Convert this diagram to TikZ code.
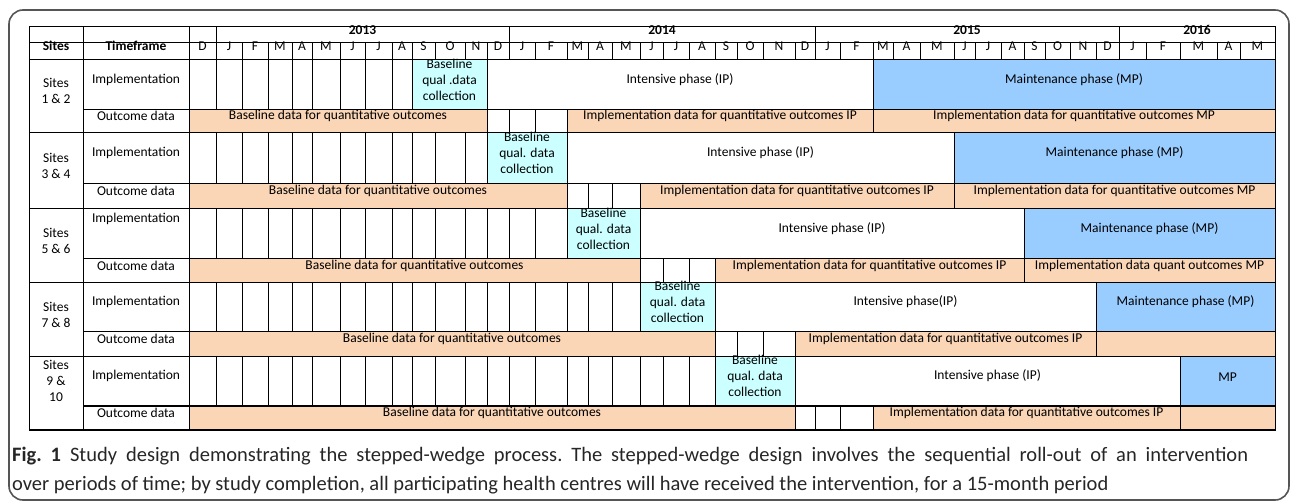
\documentclass[tikz,border=0pt]{standalone}
\usepackage{fontspec}
\setmainfont{Carlito}
\usetikzlibrary{positioning, fit}

\definecolor{qualcol}{RGB}{204,255,255}
\definecolor{mpcol}{RGB}{153,204,255}
\definecolor{datacol}{RGB}{250,213,182}
\definecolor{framecol}{RGB}{85,85,85}

\tikzstyle{cell} = [rectangle, draw = black, line width = 0.8pt, inner sep = 0pt,
text height = 0.8em, text depth = 0.2em, font = \fontsize{13.5}{16}\selectfont]
\tikzstyle{multi} = [align = center, text height = {}, text depth = {}]
\tikzstyle{headbox} = [cell, font = \fontsize{13.5}{16}\selectfont\bfseries]
\tikzstyle{qualbox} = [cell, multi, fill = qualcol]
\tikzstyle{ipbox} = [cell, fill = white]
\tikzstyle{mpbox} = [cell, fill = mpcol]
\tikzstyle{outbox} = [cell, fill = datacol]
\tikzstyle{gridline} = [draw = black, line width = 0.8pt]
\tikzstyle{boldline} = [draw = black, line width = 1.8pt]

\begin{document}
\begin{tikzpicture}[x = 1pt, y = -1pt]

    \useasboundingbox (0,0) rectangle (1292,502);
    \draw[framecol, line width = 1.6pt, rounded corners = 14pt] (9,10) rectangle (1289,500);

    % column and row boundaries
    \coordinate (c0) at (29,0);
    \coordinate (c1) at (83,0);
    \coordinate (c2) at (189,0);
    \foreach \i/\x in {0/189, 1/216, 2/242, 3/268, 4/292, 5/312, 6/340, 7/365, 8/392, 9/412,
        10/435, 11/465, 12/487, 13/509, 14/535, 15/567, 16/588, 17/612, 18/640, 19/663,
        20/689, 21/715, 22/737, 23/763, 24/795, 25/815, 26/840, 27/873, 28/893, 29/920,
        30/954, 31/975, 32/1001, 33/1024, 34/1045, 35/1070, 36/1096, 37/1119, 38/1146,
        39/1180, 40/1217, 41/1240, 42/1275}
        \coordinate (m\i) at (\x,0);
    \foreach \j/\y in {0/26, 1/42.5, 2/59.5, 3/109.5, 4/132.5, 5/183.5, 6/208.5, 7/258.5,
        8/282.5, 9/331.5, 10/356, 11/406, 12/430}
        \coordinate (r\j) at (0,\y);

    % header
    \node (blank1) [cell, fit = {(c0|-r0) (c1|-r1)}] {};
    \node (blank2) [cell, fit = {(c1|-r0) (c2|-r1)}] {};
    \node (blank3) [cell, fit = {(m0|-r0) (m1|-r1)}] {};
    \node (y2013) [headbox, fit = {(m1|-r0) (m13|-r1)}] {2013};
    \node (y2014) [headbox, fit = {(m13|-r0) (m25|-r1)}] {2014};
    \node (y2015) [headbox, fit = {(m25|-r0) (m37|-r1)}] {2015};
    \node (y2016) [headbox, fit = {(m37|-r0) (m42|-r1)}] {2016};
    \node (sites) [headbox, fit = {(c0|-r1) (c1|-r2)}] {Sites};
    \node (timeframe) [headbox, fit = {(c1|-r1) (c2|-r2)}] {Timeframe};
    \foreach \k/\mon [evaluate = \k as \kk using int(\k+1)] in {0/D, 1/J, 2/F, 3/M, 4/A, 5/M,
        6/J, 7/J, 8/A, 9/S, 10/O, 11/N, 12/D, 13/J, 14/F, 15/M, 16/A, 17/M, 18/J, 19/J, 20/A,
        21/S, 22/O, 23/N, 24/D, 25/J, 26/F, 27/M, 28/A, 29/M, 30/J, 31/J, 32/A, 33/S, 34/O,
        35/N, 36/D, 37/J, 38/F, 39/M, 40/A, 41/M}
        \node (mon\k) [cell, fit = {(m\k|-r1) (m\kk|-r2)}] {\mon};

    % sites 1 & 2
    \node (site1) [cell, multi, fit = {(c0|-r2) (c1|-r4)}] {Sites\\1 \& 2};
    \node (impl1) [cell, fit = {(c1|-r2) (c2|-r3)}] {Implementation};
    \node (out1) [cell, fit = {(c1|-r3) (c2|-r4)}] {Outcome data};
    \foreach \k [evaluate = \k as \kk using int(\k+1)] in {0,...,8}
        \draw[gridline] (m\k|-r2) rectangle (m\kk|-r3);
    \node (qual1) [qualbox, fit = {(m9|-r2) (m12|-r3)}] {Baseline\\qual .data\\collection};
    \node (ip1) [ipbox, fit = {(m12|-r2) (m27|-r3)}] {Intensive phase (IP)};
    \node (mp1) [mpbox, fit = {(m27|-r2) (m42|-r3)}] {Maintenance phase (MP)};
    \node (base1) [outbox, fit = {(m0|-r3) (m12|-r4)}] {Baseline data for quantitative outcomes};
    \foreach \k [evaluate = \k as \kk using int(\k+1)] in {12,13,14}
        \draw[gridline] (m\k|-r3) rectangle (m\kk|-r4);
    \node (ipdata1) [outbox, fit = {(m15|-r3) (m27|-r4)}] {Implementation data for quantitative outcomes IP};
    \node (mpdata1) [outbox, fit = {(m27|-r3) (m42|-r4)}] {Implementation data for quantitative outcomes MP};

    % sites 3 & 4
    \node (site3) [cell, multi, fit = {(c0|-r4) (c1|-r6)}] {Sites\\3 \& 4};
    \node (impl3) [cell, fit = {(c1|-r4) (c2|-r5)}] {Implementation};
    \node (out3) [cell, fit = {(c1|-r5) (c2|-r6)}] {Outcome data};
    \foreach \k [evaluate = \k as \kk using int(\k+1)] in {0,...,11}
        \draw[gridline] (m\k|-r4) rectangle (m\kk|-r5);
    \node (qual3) [qualbox, fit = {(m12|-r4) (m15|-r5)}] {Baseline\\qual. data\\collection};
    \node (ip3) [ipbox, fit = {(m15|-r4) (m30|-r5)}] {Intensive phase (IP)};
    \node (mp3) [mpbox, fit = {(m30|-r4) (m42|-r5)}] {Maintenance phase (MP)};
    \node (base3) [outbox, fit = {(m0|-r5) (m15|-r6)}] {Baseline data for quantitative outcomes};
    \foreach \k [evaluate = \k as \kk using int(\k+1)] in {15,16,17}
        \draw[gridline] (m\k|-r5) rectangle (m\kk|-r6);
    \node (ipdata3) [outbox, fit = {(m18|-r5) (m30|-r6)}] {Implementation data for quantitative outcomes IP};
    \node (mpdata3) [outbox, fit = {(m30|-r5) (m42|-r6)}] {Implementation data for quantitative outcomes MP};

    % sites 5 & 6
    \node (site5) [cell, multi, fit = {(c0|-r6) (c1|-r8)}] {Sites\\5 \& 6};
    \node (impl5) [cell, fit = {(c1|-r6) (c2|-r7)}] {};
    \node (impl5text) [below = 1pt of impl5.north, font = \fontsize{13.5}{16}\selectfont] {Implementation};
    \node (out5) [cell, fit = {(c1|-r7) (c2|-r8)}] {Outcome data};
    \foreach \k [evaluate = \k as \kk using int(\k+1)] in {0,...,14}
        \draw[gridline] (m\k|-r6) rectangle (m\kk|-r7);
    \node (qual5) [qualbox, fit = {(m15|-r6) (m18|-r7)}] {Baseline\\qual. data\\collection};
    \node (ip5) [ipbox, fit = {(m18|-r6) (m33|-r7)}] {Intensive phase (IP)};
    \node (mp5) [mpbox, fit = {(m33|-r6) (m42|-r7)}] {Maintenance phase (MP)};
    \node (base5) [outbox, fit = {(m0|-r7) (m18|-r8)}] {Baseline data for quantitative outcomes};
    \foreach \k [evaluate = \k as \kk using int(\k+1)] in {18,19,20}
        \draw[gridline] (m\k|-r7) rectangle (m\kk|-r8);
    \node (ipdata5) [outbox, fit = {(m21|-r7) (m33|-r8)}] {Implementation data for quantitative outcomes IP};
    \node (mpdata5) [outbox, fit = {(m33|-r7) (m42|-r8)}] {Implementation data quant outcomes MP};

    % sites 7 & 8
    \node (site7) [cell, multi, fit = {(c0|-r8) (c1|-r10)}] {Sites\\7 \& 8};
    \node (impl7) [cell, fit = {(c1|-r8) (c2|-r9)}] {Implementation};
    \node (out7) [cell, fit = {(c1|-r9) (c2|-r10)}] {Outcome data};
    \foreach \k [evaluate = \k as \kk using int(\k+1)] in {0,...,17}
        \draw[gridline] (m\k|-r8) rectangle (m\kk|-r9);
    \node (qual7) [qualbox, fit = {(m18|-r8) (m21|-r9)}] {Baseline\\qual. data\\collection};
    \node (ip7) [ipbox, fit = {(m21|-r8) (m36|-r9)}] {Intensive phase(IP)};
    \node (mp7) [mpbox, fit = {(m36|-r8) (m42|-r9)}] {Maintenance phase (MP)};
    \node (base7) [outbox, fit = {(m0|-r9) (m21|-r10)}] {Baseline data for quantitative outcomes};
    \foreach \k [evaluate = \k as \kk using int(\k+1)] in {21,22,23}
        \draw[gridline] (m\k|-r9) rectangle (m\kk|-r10);
    \node (ipdata7) [outbox, fit = {(m24|-r9) (m36|-r10)}] {Implementation data for quantitative outcomes IP};
    \node (mpdata7) [outbox, fit = {(m36|-r9) (m42|-r10)}] {};

    % sites 9 & 10
    \node (site9) [cell, multi, fit = {(c0|-r10) (c1|-r12)}] {Sites\\9 \&\\10\\\mbox{}};
    \node (impl9) [cell, fit = {(c1|-r10) (c2|-r11)}] {Implementation};
    \node (out9) [cell, fit = {(c1|-r11) (c2|-r12)}] {Outcome data};
    \foreach \k [evaluate = \k as \kk using int(\k+1)] in {0,...,20}
        \draw[gridline] (m\k|-r10) rectangle (m\kk|-r11);
    \node (qual9) [qualbox, fit = {(m21|-r10) (m24|-r11)}] {Baseline\\qual. data\\collection};
    \node (ip9) [ipbox, fit = {(m24|-r10) (m39|-r11)}] {Intensive phase (IP)};
    \node (mp9) [mpbox, fit = {(m39|-r10) (m42|-r11)}] {MP};
    \node (base9) [outbox, fit = {(m0|-r11) (m24|-r12)}] {Baseline data for quantitative outcomes};
    \foreach \k [evaluate = \k as \kk using int(\k+1)] in {24,25,26}
        \draw[gridline] (m\k|-r11) rectangle (m\kk|-r12);
    \node (ipdata9) [outbox, fit = {(m27|-r11) (m39|-r12)}] {Implementation data for quantitative outcomes IP};
    \node (mpdata9) [outbox, fit = {(m39|-r11) (m42|-r12)}] {};

    % heavier rules
    \draw[boldline] (c0|-r1) -- (m42|-r1);
    \draw[boldline] (c0|-r2) -- (m42|-r2);
    \draw[boldline] (c1|-r9) -- (m42|-r9);
    \draw[boldline] (c1|-r11) -- (m42|-r11);
    \draw[boldline] (c0|-r12) -- (m42|-r12);

    % caption
    \node (caption) [anchor = north west, align = justify, text width = 1236pt, inner sep = 0pt,
        text = black!85, font = \fontsize{20.5}{29}\selectfont\frenchspacing] at (12,447)
        {\textbf{Fig. 1} Study design demonstrating the stepped-wedge process. The stepped-wedge design involves the sequential roll-out of an intervention\linebreak
        over periods of time; by study completion, all participating health centres will have received the intervention, for a 15-month period};

\end{tikzpicture}
\end{document}
